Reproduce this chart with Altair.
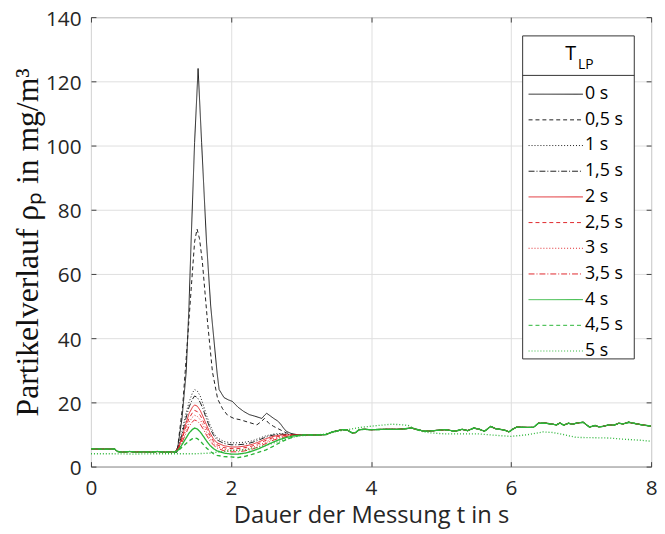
import altair as alt
import pandas as pd

# ---------------- data ----------------
SERIES = ["0 s", "0,5 s", "1 s", "1,5 s", "2 s", "2,5 s", "3 s", "3,5 s", "4 s", "4,5 s", "5 s"]
COLORS = ["#1e1e1e"] * 4 + ["#e0262b"] * 4 + ["#2bb538"] * 3
DASHES = [[1, 0], [4, 3], [1, 2], [6, 2, 1, 2]] * 2 + [[1, 0], [4, 3], [1, 2]]
GROUPS = [[0, 1, 2, 3], [4, 5, 6, 7], [8, 9, 10]]   # black, red, green (drawn in this order)

# common start (before the pulse), shared by 0 s ... 4,5 s
PRE_T = [0.0, 0.1, 0.2, 0.3, 0.34, 0.38, 0.45, 0.55, 0.65, 0.75, 0.85, 0.95, 1.05, 1.15]
PRE_V = [5.5, 5.5, 5.4, 5.5, 5.4, 4.7, 4.5, 4.7, 4.5, 4.6, 4.5, 4.7, 4.5, 4.6]

# common tail (after ~3 s), shared by 0 s ... 4,5 s
TAIL_T = [3.0, 3.1, 3.2, 3.36, 3.45, 3.59, 3.66, 3.73, 3.78, 3.83, 3.9, 4.0, 4.2, 4.4, 4.58,
          4.68, 4.77, 4.9, 5.05, 5.12, 5.2, 5.3, 5.38, 5.47, 5.55, 5.62, 5.71, 5.78, 5.87, 5.93,
          5.97, 6.02, 6.08, 6.2, 6.32, 6.39, 6.5, 6.65, 6.7, 6.75, 6.82, 6.88, 6.95, 7.03, 7.12,
          7.2, 7.25, 7.31, 7.4, 7.47, 7.54, 7.6, 7.68, 7.75, 7.87, 8.0]
TAIL_V = [9.8, 9.9, 9.8, 10.0, 10.8, 11.5, 11.4, 10.5, 10.6, 11.5, 11.6, 11.5, 11.6, 11.6, 12.0,
          11.4, 11.0, 11.2, 11.5, 11.3, 11.0, 11.6, 11.2, 12.0, 11.6, 11.0, 12.5, 11.8, 11.5, 11.2,
          10.8, 11.6, 12.3, 12.2, 12.2, 13.5, 13.5, 13.0, 13.6, 12.9, 13.5, 13.2, 13.6, 13.8, 12.3,
          12.8, 12.4, 12.5, 13.0, 12.9, 13.5, 13.3, 13.8, 13.5, 13.0, 12.6]

# pulse section of each series
T_0 = [1.2, 1.23, 1.3, 1.36, 1.40, 1.43, 1.48, 1.53, 1.58, 1.65, 1.71, 1.80, 1.83, 1.90, 1.96,
       2.02, 2.1, 2.18, 2.26, 2.34, 2.44, 2.48, 2.51, 2.56, 2.61, 2.66, 2.7, 2.75, 2.79, 2.86, 2.93]
V_0 = [4.5, 4.5, 15, 29.5, 50, 70, 101, 124, 101, 70, 50, 29.5, 24, 21.5, 20.8,
       20.3, 18.5, 17.2, 16.2, 15.7, 15, 16, 16.6, 15.8, 15, 14.3, 13.5, 12, 11, 10.3, 10]
T_05 = [1.2, 1.23, 1.31, 1.38, 1.43, 1.48, 1.515, 1.55, 1.59, 1.665, 1.735, 1.81, 1.88, 1.95,
        2.04, 2.13, 2.25, 2.37, 2.43, 2.48, 2.54, 2.61, 2.70, 2.79, 2.93]
V_05 = [4.5, 4.5, 19, 39.7, 55, 70, 74, 71, 64, 45, 29.5, 21, 18, 16,
        15, 14.6, 13.8, 13, 14, 15, 13.5, 12.5, 11.5, 10.5, 9.8]
T_S = [1.2, 1.25, 1.3, 1.35, 1.4, 1.45, 1.48, 1.52, 1.56, 1.6, 1.65, 1.7, 1.75, 1.8, 1.9,
       2.0, 2.1, 2.2, 2.3, 2.4, 2.5, 2.6, 2.7, 2.8, 2.9]
V_1 = [4.5, 6.5, 11, 16, 20, 23, 24, 23.5, 22, 19.5, 16, 13, 10.5, 9, 7.8,
       7.4, 7.4, 7.6, 8.0, 8.8, 9.6, 10.1, 10.3, 10.1, 9.9]
V_15 = [4.5, 6.2, 10, 14.5, 18.5, 21, 22, 21.5, 20, 18, 14.8, 12, 9.8, 8.3, 7.2,
        6.8, 6.8, 7.0, 7.5, 8.3, 9.2, 9.8, 10.1, 10.0, 9.9]
V_2 = [4.5, 6, 9, 13, 16.5, 18.5, 19.2, 18.8, 17.5, 15.6, 13, 10.5, 8.6, 7.4, 6.5,
       6.1, 6.1, 6.4, 6.9, 7.7, 8.7, 9.4, 9.8, 9.9, 9.9]
V_25 = [4.5, 5.8, 8.5, 12, 15, 16.8, 17.5, 17.1, 16, 14.3, 11.9, 9.6, 7.9, 6.8, 5.9,
        5.6, 5.6, 5.9, 6.4, 7.2, 8.2, 9.0, 9.5, 9.8, 9.8]
V_3 = [4.5, 5.6, 8, 11, 13.8, 15.4, 16, 15.6, 14.6, 13.0, 10.8, 8.8, 7.3, 6.3, 5.4,
       5.1, 5.1, 5.4, 5.9, 6.7, 7.7, 8.6, 9.2, 9.6, 9.8]
V_35 = [4.5, 5.4, 7.5, 10, 12.5, 14, 14.5, 14.2, 13.2, 11.8, 9.8, 8.0, 6.7, 5.8, 4.9,
        4.6, 4.6, 4.9, 5.4, 6.2, 7.2, 8.2, 8.9, 9.4, 9.7]
V_4 = [4.5, 5.2, 6.8, 8.6, 10.4, 11.6, 12, 11.7, 10.8, 9.6, 8.0, 6.6, 5.6, 4.9, 4.2,
       3.9, 3.9, 4.2, 4.8, 5.6, 6.6, 7.6, 8.5, 9.1, 9.6]
V_45 = [4.5, 5.0, 6.0, 7.0, 8.0, 8.7, 9, 8.7, 8.0, 7.0, 5.8, 4.8, 4.0, 3.5, 3.1,
        3.0, 2.8, 3.2, 3.8, 4.5, 5.2, 6.3, 7.5, 8.5, 9.3]

# 5 s: own course over the whole time span
T_5 = [0.0, 0.3, 0.6, 0.9, 1.2, 1.5, 1.7, 1.85, 2.0, 2.2, 2.4, 2.6, 2.8, 2.9,
       3.0, 3.3, 3.6, 3.88, 4.1, 4.3, 4.45, 4.53, 4.6, 4.72, 4.85, 5.05, 5.3, 5.52, 5.75,
       5.99, 6.23, 6.46, 6.6, 6.7, 6.93, 7.15, 7.4, 7.63, 7.85, 8.0]
V_5 = [4.0, 4.0, 3.9, 4.0, 4.0, 4.0, 4.2, 4.6, 5.0, 5.2, 6.0, 7.3, 8.6, 9.2,
       9.6, 10.0, 11.3, 12.3, 12.8, 13.2, 13.0, 12.8, 12.0, 11.0, 10.5, 10.2, 10.2, 10.2, 9.8,
       9.4, 9.9, 10.8, 10.6, 10.2, 9.1, 9.0, 8.9, 8.5, 8.2, 7.9]

PULSES = [(T_0, V_0), (T_05, V_05), (T_S, V_1), (T_S, V_15), (T_S, V_2), (T_S, V_25),
          (T_S, V_3), (T_S, V_35), (T_S, V_4), (T_S, V_45)]

rows = []
for k, (tp, vp) in enumerate(PULSES):
    ts = PRE_T + tp + TAIL_T
    vs = PRE_V + vp + TAIL_V
    for t, v in zip(ts, vs):
        rows.append({"serie": SERIES[k], "idx": k, "t": t, "v": v})
for t, v in zip(T_5, V_5):
    rows.append({"serie": SERIES[10], "idx": 10, "t": t, "v": v})
df = pd.DataFrame(rows)

X_TICKS = [0, 2, 4, 6, 8]
Y_TICKS = [0, 20, 40, 60, 80, 100, 120, 140]

FONT = "Open Sans"
AX = "#404040"

xscale = alt.Scale(domain=[0, 8], nice=False)
yscale = alt.Scale(domain=[0, 140], nice=False)

legend = alt.Legend(
    title=None, orient="none", legendX=443, legendY=69, padding=0,
    symbolType="M-4.5,0H23", symbolSize=16, symbolStrokeWidth=1, symbolOffset=0,
    labelFont=FONT, labelFontSize=18, labelColor="#000000", labelOffset=39,
    rowPadding=8,
)

xaxis = alt.Axis(values=X_TICKS, title="Dauer der Messung t in s",
                 grid=True, gridColor="#dedede", domain=False,
                 ticks=True, tickSize=5, offset=-5, tickColor=AX,
                 labelFont=FONT, labelFontSize=21, labelColor="#262626",
                 labelPadding=11, labelFlush=False,
                 titleFont=FONT, titleFontSize=24, titleFontWeight="normal",
                 titleColor="#262626", titlePadding=6)
yaxis = alt.Axis(values=Y_TICKS, title="Partikelverlauf ρₚ in mg/m³",
                 grid=True, gridColor="#dedede", domain=False,
                 ticks=True, tickSize=5, offset=-5, tickColor=AX,
                 labelFont=FONT, labelFontSize=21, labelColor="#262626",
                 labelPadding=10, labelFlush=False, labelOffset=2,
                 titleFont="Liberation Serif", titleFontSize=32,
                 titleFontWeight="normal", titleColor="#111111", titlePadding=1)

color = alt.Color("serie:N", scale=alt.Scale(domain=SERIES, range=COLORS), legend=legend)
dash = alt.StrokeDash("serie:N", scale=alt.Scale(domain=SERIES, range=DASHES), legend=legend)

line_layers = []
for g, members in enumerate(GROUPS):
    enc = dict(x=alt.X("t:Q", scale=xscale, axis=xaxis if g == 0 else None),
               y=alt.Y("v:Q", scale=yscale, axis=yaxis if g == 0 else None),
               color=color, strokeDash=dash, order=alt.Order("t:Q"))
    line_layers.append(
        alt.Chart(df).transform_filter(alt.FieldOneOfPredicate(field="idx", oneOf=members))
        .mark_line(strokeWidth=1.35 if g == 2 else 1.0, clip=True).encode(**enc)
    )

frame = alt.Chart(df).mark_line(opacity=0).encode(
    x=alt.X("t:Q", scale=xscale,
            axis=alt.Axis(values=X_TICKS, orient="top", labels=False, title=None, grid=False,
                          domain=False, ticks=True, tickSize=5, offset=-5, tickColor=AX)),
    y=alt.Y("v:Q", scale=yscale,
            axis=alt.Axis(values=Y_TICKS, orient="right", labels=False, title=None, grid=False,
                          domain=False, ticks=True, tickSize=5, offset=-5, tickColor=AX)),
)

one = pd.DataFrame({"a": [0]})
box = alt.Chart(one).mark_rect(fill="white", stroke="#333333", strokeWidth=1).encode(
    x=alt.value(437), x2=alt.value(550), y=alt.value(19), y2=alt.value(346))
sep = alt.Chart(one).mark_rule(stroke="#333333", strokeWidth=1).encode(
    x=alt.value(437), x2=alt.value(550), y=alt.value(59))
t_main = alt.Chart(one).mark_text(font=FONT, fontSize=20, align="left", baseline="alphabetic",
                                  color="#000000").encode(
    x=alt.value(480), y=alt.value(43), text=alt.value("T"))
t_sub = alt.Chart(one).mark_text(font=FONT, fontSize=14, align="left", baseline="alphabetic",
                                 color="#000000").encode(
    x=alt.value(493), y=alt.value(53), text=alt.value("LP"))

chart = alt.layer(*line_layers, frame, box, sep, t_main, t_sub).resolve_axis(
    x="independent", y="independent"
).properties(
    width=567, height=455,
    autosize=alt.AutoSizeParams(type="none"),
    padding={"left": 84, "top": 6, "right": 6, "bottom": 64},
).configure_view(stroke=AX, strokeWidth=1)

chart.save("out.html", embed_options={"renderer": "svg", "actions": False})
